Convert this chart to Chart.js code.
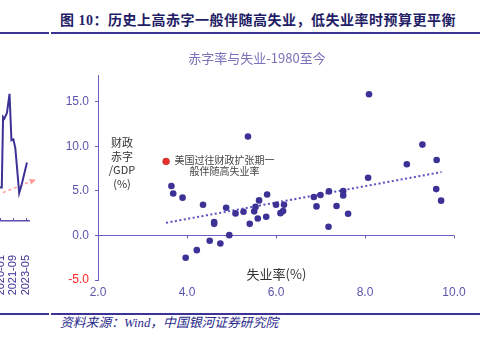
<!DOCTYPE html>
<html><head><meta charset="utf-8">
<script src="https://cdn.jsdelivr.net/npm/chart.js@4/dist/chart.umd.min.js"></script>
<style>
html,body{margin:0;padding:0;background:#fff;width:483px;height:344px;overflow:hidden;position:relative;font-family:'Noto Sans CJK SC',sans-serif;}
.abs{position:absolute;white-space:nowrap;}
canvas{position:absolute;}
#title{left:60px;top:14px;font-size:14px;line-height:14px;letter-spacing:0.5px;font-weight:bold;color:#1f1d66;font-family:'Liberation Serif','Noto Sans CJK SC',serif;}
.rule{position:absolute;height:2px;background:#3b3494;}
#src{left:60px;top:317px;font-size:12.8px;line-height:13px;font-style:italic;color:#2b2a8c;font-family:'Liberation Serif','Noto Sans CJK SC',serif;}
#ylab{left:102px;top:136px;width:40px;text-align:center;font-size:11px;line-height:13.7px;color:#333;}
#note{left:174px;top:154px;width:101px;text-align:center;font-size:10px;line-height:11px;color:#444;white-space:normal;}
#xlab{left:240px;top:267px;width:73px;text-align:center;font-size:13px;line-height:14px;color:#333;}
</style></head>
<body>
<div id="title" class="abs">图 10：历史上高赤字一般伴随高失业，低失业率时预算更平衡</div>
<div class="rule" style="left:0;top:32px;width:49px;"></div>
<div class="rule" style="left:51px;top:32px;width:429px;"></div>
<canvas id="left" width="182" height="301" style="left:-140px;top:0;"></canvas>
<canvas id="main" width="420" height="268" style="left:60px;top:40px;"></canvas>
<div id="ylab" class="abs">财政<br>赤字<br>/GDP<br>(%)</div>
<div id="note" class="abs">美国过往财政扩张期一<br>般伴随高失业率</div>
<div id="xlab" class="abs">失业率(%)</div>
<div class="rule" style="left:0;top:313px;width:49px;"></div>
<div class="rule" style="left:51px;top:313px;width:429px;"></div>
<div id="src" class="abs">资料来源：Wind，中国银河证券研究院</div>
<script>
// ---- main scatter data (unemployment %, deficit/GDP %) ----
const unemployment = [3.65,3.69,3.90,3.97,4.22,4.36,4.51,4.61,4.61,4.75,4.88,4.95,5.09,5.27,5.37,5.41,5.51,5.54,5.59,5.62,5.78,5.80,6.00,6.10,6.16,6.18,6.85,6.91,7.00,7.18,7.19,7.36,7.51,7.51,7.62,8.07,8.09,8.94,9.29,9.60,9.61,9.71];
const deficitToGdp = [5.55,4.70,4.24,-2.50,-1.65,3.45,-0.60,1.50,1.30,-0.90,3.10,0.03,2.47,2.66,11.10,1.30,2.70,3.20,1.90,3.93,2.10,4.60,3.45,2.50,2.73,3.45,4.31,3.26,4.53,0.98,4.94,3.30,4.98,4.49,2.44,6.48,15.84,7.98,10.19,5.20,8.46,3.90];
const highlightUnemployment = [3.53];
const highlightDeficit = [8.30];
const trendUnemployment = [3.53, 9.72];
const trendDeficit = [1.42, 7.11];
const xTickValues = [2, 4, 6, 8, 10];
const yTickValues = [-5, 0, 5, 10, 15];
// ---- left (cropped) line chart ----
const leftMonths = ['2019-12','2020-03','2020-05','2020-07','2020-11','2021-03','2021-06','2021-09','2021-12','2022-06','2022-10','2023-06'];
const leftValues = [4.2,4.2,13.0,12.8,13.5,15.9,10.1,10.2,9.1,3.5,4.6,7.3];
const leftTrendMonths = ['2011-09','2024-08'];
const leftTrendValues = [0.2, 5.2];
const leftTickLabels = ['2020-01','2021-09','2023-05'];

function monthIndex(s){const p=s.split('-');return (parseInt(p[0])-2020)*12+(parseInt(p[1])-1);}

const tickMarks = {
  id:'tickMarks',
  afterDraw(chart, args, o){
    if(!o || !o.enabled) return;
    const ctx=chart.ctx, xs=chart.scales.x, ys=chart.scales.y;
    const y0 = o.atZero ? ys.getPixelForValue(0) : chart.chartArea.bottom;
    ctx.save(); ctx.strokeStyle=o.color; ctx.lineWidth=o.width||1;
    xs.ticks.forEach(t=>{
      if(o.skipMin && t.value===xs.min) return;
      const px=Math.round(xs.getPixelForValue(t.value))+0.5;
      ctx.beginPath(); ctx.moveTo(px,y0); ctx.lineTo(px,y0+o.dir*o.len); ctx.stroke();
    });
    ctx.restore();
  }
};
const arrowHead = {
  id:'arrowHead',
  afterDatasetsDraw(chart, args, o){
    if(!o || !o.enabled) return;
    const pts=chart.getDatasetMeta(o.index).data;
    const p1=pts[pts.length-2], p2=pts[pts.length-1];
    const ang=Math.atan2(p2.y-p1.y,p2.x-p1.x), L=o.size;
    const ctx=chart.ctx; ctx.save(); ctx.fillStyle=o.color; ctx.beginPath();
    ctx.moveTo(p2.x,p2.y);
    ctx.lineTo(p2.x-L*Math.cos(ang-0.45),p2.y-L*Math.sin(ang-0.45));
    ctx.lineTo(p2.x-L*Math.cos(ang+0.45),p2.y-L*Math.sin(ang+0.45));
    ctx.closePath(); ctx.fill(); ctx.restore();
  }
};
Chart.register(tickMarks, arrowHead);

const axisColor = '#6a5fbf';
const labelColor = '#5b56ad';
const dotColor = '#3c3296';

new Chart(document.getElementById('left'), {
  type:'line',
  data:{datasets:[
    {data: leftMonths.map((m,i)=>({x:monthIndex(m), y:leftValues[i]})), borderColor:dotColor, borderWidth:2, pointRadius:0, tension:0, fill:false},
    {data: leftTrendMonths.map((m,i)=>({x:monthIndex(m), y:leftTrendValues[i]})), borderColor:'#ff9c9c', borderWidth:1.5, borderDash:[3,3], pointRadius:0, clip:false}
  ]},
  options:{
    responsive:false, animation:false, events:[],
    layout:{padding:{left:11.5,right:13,top:60,bottom:0}},
    plugins:{legend:{display:false}, tooltip:{enabled:false},
      tickMarks:{enabled:true, atZero:false, dir:-1, len:3, color:'#5a50b0'},
      arrowHead:{enabled:true, index:1, size:7, color:'#ff9c9c'}},
    scales:{
      x:{type:'linear', min:-200, max:44.2,
        afterBuildTicks:s=>{s.ticks=leftTickLabels.map(l=>({value:monthIndex(l)}));},
        ticks:{autoSkip:false, minRotation:90, maxRotation:90, padding:34, color:dotColor,
          font:{family:'Liberation Sans', size:11},
          callback:(v)=>{const l=leftTickLabels.find(t=>monthIndex(t)===v);return l||'';}},
        grid:{display:false, drawTicks:false},
        border:{display:true, color:'#5a50b0', width:1.5},
        afterFit:s=>{s.height=80; s.paddingLeft=0; s.paddingRight=0;}},
      y:{display:false, min:0, max:20.125}
    }
  }
});

new Chart(document.getElementById('main'), {
  type:'scatter',
  data:{datasets:[
    {data: unemployment.map((u,i)=>({x:u, y:deficitToGdp[i]})), backgroundColor:dotColor, borderWidth:0, pointRadius:3.3},
    {data: highlightUnemployment.map((u,i)=>({x:u, y:highlightDeficit[i]})), backgroundColor:'#e8302a', borderColor:'#b02020', borderWidth:0.5, pointRadius:3.4},
    {type:'line', data: trendUnemployment.map((u,i)=>({x:u, y:trendDeficit[i]})), borderColor:'#5a50c0', borderWidth:2, borderDash:[2,2.5], pointRadius:0, fill:false}
  ]},
  options:{
    responsive:false, animation:false, events:[],
    layout:{padding:{left:0,right:26,top:0,bottom:0}},
    plugins:{legend:{display:false}, tooltip:{enabled:false},
      title:{display:true, text:'赤字率与失业-1980至今', color:'#7a72ba',
        font:{family:'Noto Sans CJK SC', size:13, weight:'normal'}, padding:{top:10,bottom:9.4}},
      tickMarks:{enabled:true, atZero:true, dir:1, len:3, color:axisColor, skipMin:true}},
    scales:{
      x:{type:'linear', min:2, max:10,
        afterBuildTicks:s=>{s.ticks=xTickValues.map(v=>({value:v}));},
        ticks:{autoSkip:false, maxRotation:0, padding:5, color:labelColor,
          font:{family:'Liberation Sans', size:12}, callback:(v)=>Number(v).toFixed(1)},
        grid:{display:false, drawTicks:false}, border:{display:false},
        afterFit:s=>{s.height=28;}},
      y:{min:-5, max:18,
        afterBuildTicks:s=>{s.ticks=yTickValues.map(v=>({value:v}));},
        ticks:{padding:6, color:(c)=>(c.tick && c.tick.value===-5)?'#ff2020':labelColor,
          font:{family:'Liberation Sans', size:12}, callback:(v)=>Number(v).toFixed(1)},
        grid:{color:(c)=>(c.tick && c.tick.value===0)?axisColor:'rgba(0,0,0,0)', tickColor:axisColor, tickLength:3, lineWidth:1},
        border:{display:true, color:axisColor, width:1},
        afterFit:s=>{s.width=38;}}
    }
  }
});
</script>
</body></html>
